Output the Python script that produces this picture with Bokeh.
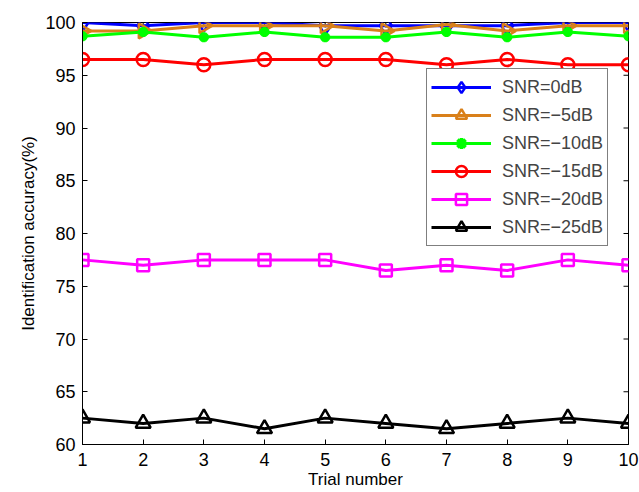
import math
from bokeh.plotting import figure
from bokeh.models import (Range1d, FixedTicker, Legend, LegendItem, ColumnDataSource)
from bokeh.embed import file_html
from bokeh.resources import INLINE

trials = [1, 2, 3, 4, 5, 6, 7, 8, 9, 10]
snr_0 = [100, 99.7, 100, 100, 99.7, 99.7, 99.7, 99.7, 100, 100]
snr_5 = [99.2, 99.2, 99.7, 99.7, 99.7, 99.2, 99.8, 99.2, 99.7, 99.7]
snr_10 = [98.7, 99.1, 98.6, 99.1, 98.6, 98.6, 99.1, 98.6, 99.1, 98.7]
snr_15 = [96.5, 96.5, 96.0, 96.5, 96.5, 96.5, 96.0, 96.5, 96.0, 96.0]
snr_20 = [77.5, 77.0, 77.5, 77.5, 77.5, 76.5, 77.0, 76.5, 77.5, 77.0]
snr_25 = [62.5, 62.0, 62.5, 61.5, 62.5, 62.0, 61.5, 62.0, 62.5, 62.0]
labels = ["SNR=0dB", "SNR=\u22125dB", "SNR=\u221210dB", "SNR=\u221215dB",
          "SNR=\u221220dB", "SNR=\u221225dB"]
x_ticks = list(range(1, 11))
y_ticks = [60, 65, 70, 75, 80, 85, 90, 95, 100]

FONT = "Liberation Sans"
X0, X1, Y0, Y1 = 1, 10, 60, 100
W, H = 639, 492
BL, BR, BT, BB = 82, 11, 22, 48

p = figure(width=W, height=H, output_backend="svg", toolbar_location=None,
           x_range=Range1d(X0, X1), y_range=Range1d(Y0, Y1),
           min_border_left=BL, min_border_right=BR, min_border_top=BT,
           min_border_bottom=BB)
p.background_fill_color = "white"
p.border_fill_color = "white"
p.outline_line_color = "black"
p.outline_line_width = 1
p.xgrid.visible = False
p.ygrid.visible = False

for ax in (p.xaxis[0], p.yaxis[0]):
    ax.major_tick_in = 5
    ax.major_tick_out = 0
    ax.minor_tick_in = 0
    ax.minor_tick_out = 0
    ax.axis_line_color = "black"
    ax.major_tick_line_color = "black"
    ax.major_label_text_font = FONT
    ax.major_label_text_font_size = "18px"
    ax.major_label_text_color = "black"
    ax.axis_label_text_font = FONT
    ax.axis_label_text_font_size = "17px"
    ax.axis_label_text_font_style = "normal"
    ax.axis_label_text_color = "black"

p.xaxis[0].ticker = FixedTicker(ticks=x_ticks)
p.yaxis[0].ticker = FixedTicker(ticks=y_ticks)
p.xaxis[0].axis_label = "Trial number"
p.yaxis[0].axis_label = "Identification accuracy(%)"
p.xaxis[0].major_label_standoff = 8
p.yaxis[0].major_label_standoff = 7
p.xaxis[0].axis_label_standoff = 1
p.yaxis[0].axis_label_standoff = 4

frame_w = W - BL - BR
frame_h = H - BT - BB

# inward ticks on the top and right edges of the box (5 px long)
tx = 5 * (X1 - X0) / frame_w
ty = 5 * (Y1 - Y0) / frame_h
p.segment(x0=x_ticks, x1=x_ticks, y0=[Y1] * len(x_ticks), y1=[Y1 - ty] * len(x_ticks),
          line_color="black", line_width=1)
p.segment(x0=[X1] * len(y_ticks), x1=[X1 - tx] * len(y_ticks), y0=y_ticks, y1=y_ticks,
          line_color="black", line_width=1)

series = [
    (snr_0, "#0000FF", "diamond", 18, 0),
    (snr_5, "#D9801A", "triangle", 15, -math.pi / 2),
    (snr_10, "#00FF00", "asterisk", 10, 0),
    (snr_15, "#FF0000", "circle", 13, 0),
    (snr_20, "#FF00FF", "square", 12, 0),
    (snr_25, "#000000", "triangle", 15, 0),
]

items = []
for (vals, color, marker, size, angle), lab in zip(series, labels):
    src = ColumnDataSource(dict(x=trials, y=vals))
    r1 = p.line("x", "y", source=src, line_color=color, line_width=3)
    star = marker == "asterisk"
    r2 = p.scatter("x", "y", source=src, marker=marker, size=size, angle=angle,
                   line_color=color, fill_color=color,
                   fill_alpha=1.0 if star else 0.0,
                   line_width=3.5 if star else 2.5)
    items.append(LegendItem(label=lab, renderers=[r1, r2]))

legend = Legend(items=items, location=(344, 198), padding=4, spacing=-1,
                glyph_width=60, glyph_height=28, label_height=28, label_standoff=11,
                label_text_font=FONT, label_text_font_size="18px",
                border_line_color="black", border_line_width=1,
                background_fill_color="white", background_fill_alpha=1.0,
                margin=0)
p.add_layout(legend, "center")

open("out.html", "w").write(file_html(p, INLINE))
